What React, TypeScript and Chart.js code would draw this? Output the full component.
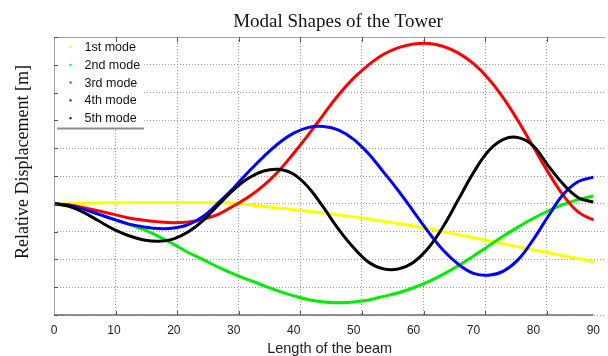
import React, { useEffect, useRef } from "react";
import { Chart, registerables } from "chart.js";

Chart.register(...registerables);

// ---- data ----
const beamLength = [
  0, 2.5, 5, 7.5, 10, 12.5, 15, 17.5, 20, 22.5, 25, 27.5, 30, 32.5, 35, 37.5, 40, 42.5, 45,
  47.5, 50, 52.5, 55, 57.5, 60, 62.5, 65, 67.5, 70, 72.5, 75, 77.5, 80, 82.5, 85, 87.5, 90,
];
const mode1 = [
  0, 0.01, 0.02, 0.03, 0.04, 0.04, 0.05, 0.05, 0.05, 0.05, 0.05, 0.04, 0.02, -0.03, -0.09, -0.15,
  -0.21, -0.27, -0.33, -0.4, -0.47, -0.55, -0.63, -0.71, -0.8, -0.9, -1.0, -1.11, -1.22, -1.33,
  -1.44, -1.55, -1.66, -1.76, -1.87, -1.97, -2.08,
];
const mode2 = [
  0, -0.08, -0.2, -0.38, -0.56, -0.74, -0.93, -1.18, -1.46, -1.76, -2.02, -2.29, -2.53, -2.74,
  -2.94, -3.14, -3.31, -3.45, -3.53, -3.56, -3.53, -3.46, -3.33, -3.2, -3.02, -2.8, -2.53,
  -2.22, -1.88, -1.52, -1.16, -0.83, -0.52, -0.25, -0.02, 0.15, 0.28,
];
const mode3 = [
  0, -0.04, -0.14, -0.26, -0.38, -0.51, -0.59, -0.65, -0.68, -0.65, -0.55, -0.37, -0.07, 0.25,
  0.66, 1.18, 1.82, 2.5, 3.22, 3.92, 4.52, 5.0, 5.38, 5.62, 5.75, 5.77, 5.66, 5.42, 5.04, 4.5,
  3.8, 2.96, 2.04, 1.12, 0.3, -0.3, -0.58,
];
const mode4 = [
  0, -0.05, -0.2, -0.38, -0.56, -0.73, -0.83, -0.89, -0.87, -0.74, -0.44, 0.05, 0.58, 1.16, 1.7,
  2.18, 2.54, 2.75, 2.78, 2.65, 2.32, 1.8, 1.14, 0.46, -0.28, -1.02, -1.68, -2.18, -2.5, -2.57,
  -2.42, -2.0, -1.28, -0.44, 0.34, 0.8, 0.96,
];
const mode5 = [
  0, -0.09, -0.32, -0.62, -0.92, -1.15, -1.3, -1.35, -1.26, -1.0, -0.58, -0.02, 0.51, 0.93, 1.18,
  1.24, 1.06, 0.58, -0.14, -0.92, -1.58, -2.1, -2.34, -2.34, -2.1, -1.58, -0.8, 0.16, 1.12, 1.9,
  2.32, 2.38, 2.08, 1.36, 0.7, 0.22, 0.06,
];
const modeNames = ["1st mode", "2nd mode", "3rd mode", "4th mode", "5th mode"];
const modeColors = ["#ffff00", "#00ee00", "#ff0000", "#0000ff", "#000000"];
const xTickLabels = [0, 10, 20, 30, 40, 50, 60, 70, 80, 90];
const gridTicks = [0, 10, 20, 30, 40, 50, 60, 70, 80];
const yGridTicks = [-4, -3, -2, -1, 0, 1, 2, 3, 4, 5, 6];
const chartTitle = "Modal Shapes of the Tower";
const yTitle = "Relative Displacement [m]";
const xTitle = "Length of the beam";

// ---- layout constants ----
const W = 608;
const H = 356;
const X_AXIS_MAX = 92; // value 90 lands left of the right edge
const GRID_MAX = 89.5; // grid spacing of the original figure
const SERIF = "'Liberation Serif', 'Times New Roman', serif";
const SANS = "'Liberation Sans', Arial, sans-serif";

const decorPlugin = {
  id: "decor",
  afterDraw(chart: any) {
    const { ctx, chartArea: a, scales } = chart;
    const xs = scales.x;
    const xg = scales.xg;
    const ys = scales.y;
    ctx.save();

    // frame lines
    ctx.lineWidth = 1;
    ctx.strokeStyle = "#a0a0a0";
    ctx.beginPath();
    ctx.moveTo(a.left, a.top + 0.5);
    ctx.lineTo(a.right, a.top + 0.5);
    ctx.moveTo(a.left + 0.5, a.top);
    ctx.lineTo(a.left + 0.5, a.bottom);
    ctx.stroke();
    ctx.strokeStyle = "#6a6a6a";
    ctx.lineWidth = 1.5;
    ctx.beginPath();
    ctx.moveTo(a.left, a.bottom);
    ctx.lineTo(xs.getPixelForValue(90), a.bottom);
    ctx.stroke();

    // legend box
    const lx0 = a.left + 1;
    const lx1 = 144;
    const ly0 = a.top + 1;
    const ly1 = 128;
    ctx.fillStyle = "#ffffff";
    ctx.fillRect(lx0, ly0, lx1 - lx0, ly1 - ly0);
    ctx.strokeStyle = "#8c8c8c";
    ctx.lineWidth = 2;
    ctx.beginPath();
    ctx.moveTo(lx0 + 2, ly1 + 0.5);
    ctx.lineTo(lx1, ly1 + 0.5);
    ctx.stroke();
    ctx.font = `12.5px ${SANS}`;
    ctx.textBaseline = "middle";
    ctx.textAlign = "left";
    chart.data.datasets.forEach((ds: any, i: number) => {
      const cy = 47 + i * 17.8;
      ctx.fillStyle = ds.borderColor;
      ctx.fillRect(69.5, cy - 1, 2, 2);
      ctx.fillStyle = "#111111";
      ctx.fillText(ds.label, 84.5, cy + 0.5);
    });

    // inward tick marks
    ctx.strokeStyle = "#555555";
    ctx.lineWidth = 1;
    ctx.beginPath();
    yGridTicks.forEach((v) => {
      const py = Math.round(ys.getPixelForValue(v)) + 0.5;
      ctx.moveTo(a.left, py);
      ctx.lineTo(a.left + 4, py);
    });
    gridTicks.forEach((v) => {
      if (v === 0) return;
      const px = Math.round(xg.getPixelForValue(v)) + 0.5;
      ctx.moveTo(px, a.top);
      ctx.lineTo(px, a.top + 5);
      ctx.moveTo(px, a.bottom);
      ctx.lineTo(px, a.bottom - 4);
    });
    ctx.stroke();

    // titles
    ctx.fillStyle = "#111111";
    ctx.font = `19px ${SERIF}`;
    ctx.textAlign = "center";
    ctx.textBaseline = "alphabetic";
    ctx.fillText(chartTitle, 338, 26.5);

    ctx.translate(23, 162);
    ctx.rotate(-Math.PI / 2);
    ctx.font = `18px ${SERIF}`;
    ctx.textBaseline = "middle";
    ctx.fillText(yTitle, 0, 0);
    ctx.restore();
  },
};

export default function App() {
  const ref = useRef<HTMLCanvasElement | null>(null);

  useEffect(() => {
    document.body.style.margin = "0";
    const canvas = ref.current;
    if (!canvas) return;
    const series = [mode1, mode2, mode3, mode4, mode5];
    const chart = new Chart(canvas, {
      type: "line",
      data: {
        datasets: series.map((vals, i) => ({
          label: modeNames[i],
          data: beamLength.map((x, j) => ({ x, y: vals[j] })),
          borderColor: modeColors[i],
          backgroundColor: modeColors[i],
          borderWidth: 3,
          pointRadius: 0,
          tension: 0.4,
          fill: false,
          order: series.length - 1 - i,
        })),
      },
      options: {
        animation: false,
        responsive: false,
        devicePixelRatio: 1,
        layout: { padding: { top: 37, left: 0, right: 0, bottom: 0 } },
        plugins: {
          legend: { display: false },
          title: { display: false },
          tooltip: { enabled: false },
        },
        scales: {
          x: {
            type: "linear",
            position: "bottom",
            min: 0,
            max: X_AXIS_MAX,
            afterBuildTicks: (s: any) => {
              s.ticks = xTickLabels.map((v) => ({ value: v }));
            },
            afterFit: (s: any) => {
              s.height = 41;
            },
            grid: { display: false, drawTicks: false },
            border: { display: false },
            ticks: {
              color: "#222222",
              font: { family: SANS, size: 12 },
              padding: 8,
              maxRotation: 0,
              autoSkip: false,
            },
            title: {
              display: true,
              text: xTitle,
              color: "#222222",
              font: { family: SANS, size: 14.5, lineHeight: 1 },
              padding: { top: 0, bottom: 0 },
            },
          },
          xg: {
            type: "linear",
            position: "bottom",
            min: 0,
            max: GRID_MAX,
            afterBuildTicks: (s: any) => {
              s.ticks = gridTicks.map((v) => ({ value: v }));
            },
            afterFit: (s: any) => {
              s.height = 0;
            },
            ticks: { display: false },
            grid: { color: "#9a9a9a", lineWidth: 1, drawTicks: false },
            border: { display: false, dash: [1, 2] },
          },
          y: {
            type: "linear",
            min: -4,
            max: 6,
            afterBuildTicks: (s: any) => {
              s.ticks = yGridTicks.map((v) => ({ value: v }));
            },
            afterFit: (s: any) => {
              s.width = 54;
            },
            ticks: { display: false },
            grid: { color: "#9a9a9a", lineWidth: 1, drawTicks: false },
            border: { display: false, dash: [1, 2] },
          },
        },
      },
      plugins: [decorPlugin],
    });
    return () => chart.destroy();
  }, []);

  return (
    <div style={{ width: W, height: H, background: "#ffffff" }}>
      <canvas ref={ref} width={W} height={H} style={{ display: "block" }} />
    </div>
  );
}
